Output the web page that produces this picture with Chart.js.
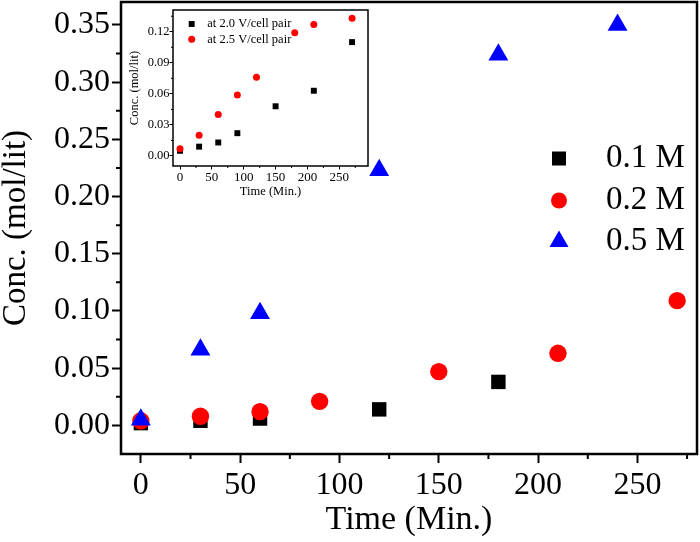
<!DOCTYPE html>
<html>
<head>
<meta charset="utf-8">
<script src="https://cdn.jsdelivr.net/npm/chart.js@4.4.1/dist/chart.umd.min.js"></script>
<style>
    html, body { margin: 0; padding: 0; background: #fff; }
    #wrap { position: relative; width: 700px; height: 542px; }
    #mainChart { position: absolute; left: 0; top: 0; }
    #insetChart { position: absolute; left: 120px; top: 4px; }
</style>
</head>
<body>
<div id="wrap">
    <canvas id="mainChart" width="700" height="542"></canvas>
    <canvas id="insetChart" width="256" height="200"></canvas>
</div>
<script>
// main plot data
var seriesNames = ['0.1 M', '0.2 M', '0.5 M'];
var time01 = [0, 30, 60, 120, 180];
var conc01 = [0.002, 0.004, 0.006, 0.014, 0.038];
var time02 = [0, 30, 60, 90, 150, 210, 270];
var conc02 = [0.004, 0.008, 0.012, 0.021, 0.047, 0.063, 0.109];
var time05 = [0, 30, 60, 120, 180, 240];
var conc05 = [0.005, 0.066, 0.098, 0.223, 0.324, 0.350];

// inset data
var insetNames = ['at 2.0 V/cell pair', 'at 2.5 V/cell pair'];
var insetTime20 = [0, 30, 60, 90, 150, 210, 270];
var insetConc20 = [0.005, 0.009, 0.013, 0.022, 0.048, 0.063, 0.110];
var insetTime25 = [0, 30, 60, 90, 120, 180, 210, 270];
var insetConc25 = [0.007, 0.020, 0.040, 0.059, 0.076, 0.119, 0.127, 0.133];

// tick values
var xTicks = [0, 50, 100, 150, 200, 250];
var xMinor = [25, 75, 125, 175, 225, 275];
var yTicks = [0, 0.05, 0.10, 0.15, 0.20, 0.25, 0.30, 0.35];
var yMinor = [0.025, 0.075, 0.125, 0.175, 0.225, 0.275, 0.325];
var insetYTicks = [0, 0.03, 0.06, 0.09, 0.12];
var insetYMinor = [0.015, 0.045, 0.075, 0.105, 0.135];

var serif = '"Liberation Serif", "Times New Roman", serif';
Chart.defaults.font.family = serif;
Chart.defaults.color = '#000';

function toPoints(xs, ys) {
    return xs.map(function (x, i) { return { x: x, y: ys[i] }; });
}

function fixedTicks(list) {
    return function (scale) {
        scale.ticks = list.map(function (v) { return { value: v }; });
    };
}

// force the axis box size and drop the label overhang padding
function fixSize(w, h) {
    return function (s) {
        if (w) s.width = w;
        if (h) s.height = h;
        s.paddingTop = 0; s.paddingBottom = 0;
        s.paddingLeft = 0; s.paddingRight = 0;
    };
}

// draws the box, the short minor ticks and the little legend
var framePlugin = {
    id: 'frame',
    afterDraw: function (chart, args, opts) {
        var ctx = chart.ctx;
        var a = chart.chartArea;
        ctx.save();
        ctx.strokeStyle = '#000';
        ctx.lineWidth = opts.lineWidth;
        ctx.strokeRect(a.left, a.top, a.right - a.left, a.bottom - a.top);

        ctx.lineWidth = opts.tickWidth;
        ctx.beginPath();
        opts.xMinor.forEach(function (v) {
            var px = chart.scales.x.getPixelForValue(v);
            ctx.moveTo(px, a.bottom);
            ctx.lineTo(px, a.bottom + opts.minorLen);
        });
        opts.yMinor.forEach(function (v) {
            var py = chart.scales.y.getPixelForValue(v);
            ctx.moveTo(a.left, py);
            ctx.lineTo(a.left - opts.minorLen, py);
        });
        ctx.stroke();

        var lg = opts.legend;
        ctx.font = lg.font;
        ctx.textBaseline = 'middle';
        ctx.textAlign = 'left';
        lg.ys.forEach(function (y, i) {
            var ds = chart.data.datasets[lg.datasets[i]];
            ctx.fillStyle = ds.backgroundColor;
            Chart.helpers.drawPoint(ctx, { pointStyle: ds.pointStyle, radius: lg.radii[i], rotation: 0, borderWidth: 0 }, lg.x, y);
            ctx.fillStyle = '#000';
            ctx.fillText(ds.label, lg.textX, y);
        });
        ctx.restore();
    }
};

new Chart(document.getElementById('mainChart'), {
    type: 'scatter',
    data: {
        datasets: [
            { label: seriesNames[0], data: toPoints(time01, conc01), pointStyle: 'rect', pointRadius: 10.2, backgroundColor: '#000000', pointBorderWidth: 0, order: 3 },
            { label: seriesNames[1], data: toPoints(time02, conc02), pointStyle: 'circle', pointRadius: 8.7, backgroundColor: '#ff0000', pointBorderWidth: 0, order: 2 },
            { label: seriesNames[2], data: toPoints(time05, conc05), pointStyle: 'triangle', pointRadius: 11.5, backgroundColor: '#0000ff', pointBorderWidth: 0, order: 1 }
        ]
    },
    options: {
        responsive: false,
        animation: false,
        clip: false,
        layout: { autoPadding: false, padding: { left: 0, right: 3, top: 2, bottom: 0 } },
        plugins: {
            legend: { display: false },
            tooltip: { enabled: false },
            frame: {
                lineWidth: 2.5, tickWidth: 2, minorLen: 5,
                xMinor: xMinor, yMinor: yMinor,
                legend: { datasets: [0, 1, 2], x: 559, textX: 606, ys: [158.5, 200.5, 241.5], radii: [9.9, 8, 11], font: '33px ' + serif }
            }
        },
        scales: {
            x: {
                type: 'linear', min: -10, max: 280,
                afterBuildTicks: fixedTicks(xTicks),
                afterFit: fixSize(0, 88),
                grid: { drawOnChartArea: false, drawTicks: true, tickLength: 9, tickWidth: 2, tickColor: '#000' },
                border: { display: false },
                ticks: { padding: 3, maxRotation: 0, autoSkip: false, font: { size: 32 } },
                title: { display: true, text: 'Time (Min.)', font: { size: 34 }, padding: { top: 0, bottom: 2 } }
            },
            y: {
                type: 'linear', min: -0.025, max: 0.37,
                afterBuildTicks: fixedTicks(yTicks),
                afterFit: fixSize(121, 0),
                grid: { drawOnChartArea: false, drawTicks: true, tickLength: 9, tickWidth: 2, tickColor: '#000' },
                border: { display: false },
                ticks: { padding: 2, autoSkip: false, font: { size: 32 }, callback: function (v) { return v.toFixed(2); } },
                title: { display: true, text: 'Conc. (mol/lit)', font: { size: 33, lineHeight: 1 }, padding: { top: 0, bottom: 0 } }
            }
        }
    },
    plugins: [framePlugin]
});

new Chart(document.getElementById('insetChart'), {
    type: 'scatter',
    data: {
        datasets: [
            { label: insetNames[0], data: toPoints(insetTime20, insetConc20), pointStyle: 'rect', pointRadius: 4.2, backgroundColor: '#000000', pointBorderWidth: 0, order: 2 },
            { label: insetNames[1], data: toPoints(insetTime25, insetConc25), pointStyle: 'circle', pointRadius: 3.5, backgroundColor: '#ff0000', pointBorderWidth: 0, order: 1 }
        ]
    },
    options: {
        responsive: false,
        animation: false,
        clip: false,
        layout: { autoPadding: false, padding: { left: 0, right: 8, top: 6, bottom: 0 } },
        plugins: {
            legend: { display: false },
            tooltip: { enabled: false },
            frame: {
                lineWidth: 1.5, tickWidth: 1, minorLen: 2,
                xMinor: xMinor, yMinor: insetYMinor,
                legend: { datasets: [0, 1], x: 71.7, textX: 87.3, ys: [20, 35.3], radii: [4.2, 3.5], font: '12.5px ' + serif }
            }
        },
        scales: {
            x: {
                type: 'linear', min: -11, max: 295,
                afterBuildTicks: fixedTicks(xTicks),
                afterFit: fixSize(0, 38),
                grid: { drawOnChartArea: false, drawTicks: true, tickLength: 3.5, tickWidth: 1, tickColor: '#000' },
                border: { display: false },
                ticks: { padding: 0, maxRotation: 0, autoSkip: false, font: { size: 13 } },
                title: { display: true, text: 'Time (Min.)', font: { size: 12.5 }, padding: { top: 0, bottom: 4.8 } }
            },
            y: {
                type: 'linear', min: -0.0097, max: 0.141,
                afterBuildTicks: fixedTicks(insetYTicks),
                afterFit: fixSize(53, 0),
                grid: { drawOnChartArea: false, drawTicks: true, tickLength: 3.5, tickWidth: 1, tickColor: '#000' },
                border: { display: false },
                ticks: { padding: 0, autoSkip: false, font: { size: 12.5 }, callback: function (v) { return v.toFixed(2); } },
                title: { display: true, text: 'Conc. (mol/lit)', font: { size: 12.5 }, padding: { top: 7.5, bottom: 0 } }
            }
        }
    },
    plugins: [framePlugin]
});
</script>
</body>
</html>
